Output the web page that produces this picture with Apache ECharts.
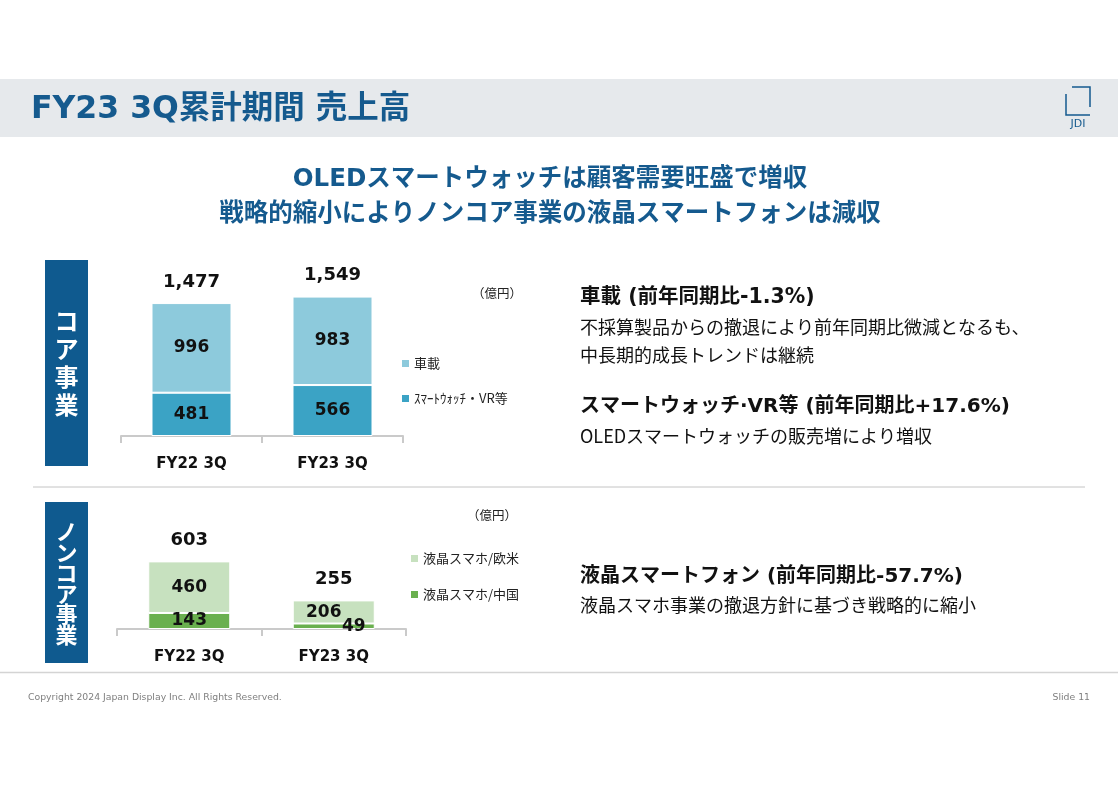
<!DOCTYPE html>
<html><head><meta charset="utf-8">
<script src="https://cdn.jsdelivr.net/npm/echarts@6/dist/echarts.min.js"></script>
<style>html,body{margin:0;padding:0;background:#fff}#c{width:1118px;height:790px}</style>
</head><body><div id="c"></div>
<script>
// ---- data ----
const categories = ['FY22 3Q', 'FY23 3Q'];
const coreWatch = [481, 566];      // スマートウォッチ・VR等
const coreAuto = [996, 983];       // 車載
const coreTotals = [1477, 1549];
const ncChina = [143, 49];         // 液晶スマホ/中国
const ncWest = [460, 206];         // 液晶スマホ/欧米
const ncTotals = [603, 255];
const coreLegend = ['車載', 'ｽﾏｰﾄｳｫｯﾁ・VR等'];
const ncLegend = ['液晶スマホ/欧米', '液晶スマホ/中国'];

const NUM = '"DejaVu Sans", "Noto Sans CJK JP", sans-serif';
const JP = '"Noto Sans CJK JP", sans-serif';
const BLUE = '#155a8e';

const chart = echarts.init(document.getElementById('c'), null, {renderer: 'canvas'});

function vtext(str, x, y0, step, size) {
  return str.split('').map((ch, i) => ({
    type: 'text', x: x, y: y0 + i * step,
    style: {text: ch, fill: '#fff', font: 'bold ' + size + 'px ' + JP, align: 'center', verticalAlign: 'middle'}
  }));
}
function txt(s, x, y, font, fill, align) {
  return {type: 'text', x: x, y: y, style: {text: s, font: font, fill: fill, align: align || 'left', verticalAlign: 'middle'}};
}
const fmt = v => v.toLocaleString('en-US');

const segLabel = {show: true, position: 'inside', color: '#111', fontSize: 17, fontWeight: 'bold', fontFamily: NUM};
const totLabel = arr => ({show: true, position: 'top', distance: 12, color: '#111', fontSize: 18, fontWeight: 'bold', fontFamily: NUM,
  formatter: p => fmt(arr[p.dataIndex])});

const xAx = (gi) => ({
  type: 'category', gridIndex: gi, data: categories,
  axisLine: {lineStyle: {color: '#cacaca', width: 2}},
  axisTick: {show: true, length: 7, lineStyle: {color: '#cacaca', width: 2}},
  axisLabel: {color: '#111', fontSize: 15, fontWeight: 'bold', fontFamily: NUM, margin: 21}
});
const yAx = (gi, max) => ({type: 'value', gridIndex: gi, min: 0, max: max, show: false, splitLine: {show: false}});

const graphic = [
  {type: 'rect', shape: {x: 0, y: 79, width: 1118, height: 58}, style: {fill: '#e6e9ec'}},
  txt('FY23 3Q累計期間 売上高', 31, 110, 'bold 31.5px ' + NUM, BLUE),
  {type: 'polyline', shape: {points: [[1072, 87], [1090, 87], [1090, 107]]}, style: {stroke: BLUE, lineWidth: 1.5, fill: null}},
  {type: 'polyline', shape: {points: [[1066, 94], [1066, 115], [1090, 115]]}, style: {stroke: BLUE, lineWidth: 1.5, fill: null}},
  txt('JDI', 1078, 124, '11px ' + NUM, BLUE, 'center'),
  txt('OLEDスマートウォッチは顧客需要旺盛で増収', 550, 180, 'bold 24.5px ' + NUM, BLUE, 'center'),
  txt('戦略的縮小によりノンコア事業の液晶スマートフォンは減収', 550, 212, 'bold 24.5px ' + JP, BLUE, 'center'),
  {type: 'rect', shape: {x: 45, y: 260, width: 43, height: 206}, style: {fill: '#0f5a8f'}},
  ...vtext('コア事業', 66.5, 321, 28, 24),
  {type: 'rect', shape: {x: 45, y: 502, width: 43, height: 161}, style: {fill: '#0f5a8f'}},
  ...vtext('ノンコア事業', 66.5, 532, 20.5, 22),
  txt('（億円）', 497, 293, '12.5px ' + JP, '#222', 'center'),
  txt('（億円）', 492, 515, '12.5px ' + JP, '#222', 'center'),
  {type: 'line', shape: {x1: 33, y1: 487, x2: 1085, y2: 487}, style: {stroke: '#c4c4c4', lineWidth: 1}},
  {type: 'line', shape: {x1: 0, y1: 672.5, x2: 1118, y2: 672.5}, style: {stroke: '#d4d4d4', lineWidth: 1.5}},
  txt('車載 (前年同期比-1.3%)', 580, 298, 'bold 20.5px ' + NUM, '#111'),
  txt('不採算製品からの撤退により前年同期比微減となるも、', 580, 327, '18px ' + JP, '#111'),
  txt('中長期的成長トレンドは継続', 580, 355, '18px ' + JP, '#111'),
  txt('スマートウォッチ·VR等 (前年同期比+17.6%)', 580, 407, 'bold 20px ' + NUM, '#111'),
  txt('OLEDスマートウォッチの販売増により増収', 580, 436, '18px ' + JP, '#111'),
  txt('液晶スマートフォン (前年同期比-57.7%)', 580, 577, 'bold 20px ' + NUM, '#111'),
  txt('液晶スマホ事業の撤退方針に基づき戦略的に縮小', 580, 605, '18px ' + JP, '#111'),
  txt('Copyright 2024 Japan Display Inc. All Rights Reserved.', 28, 698, '9.3px ' + NUM, '#7f7f7f'),
  txt('Slide 11', 1090, 698, '9.3px ' + NUM, '#7f7f7f', 'right')
];

const legendBase = {orient: 'vertical', icon: 'rect', itemWidth: 7, itemHeight: 7, padding: 0,
  textStyle: {fontSize: 13, color: '#222', fontFamily: JP}, itemStyle: {borderWidth: 0}, selectedMode: false};

chart.setOption({
  animation: false,
  backgroundColor: '#fff',
  graphic: graphic,
  grid: [
    {left: 121, width: 282, top: 274, height: 162},
    {left: 117, width: 289, top: 550.5, height: 78.5}
  ],
  xAxis: [xAx(0), xAx(1)],
  yAxis: [yAx(0, 1800), yAx(1, 700)],
  legend: [
    Object.assign({}, legendBase, {data: coreLegend, left: 402, top: 357, itemGap: 22}),
    Object.assign({}, legendBase, {data: ncLegend, left: 411, top: 552, itemGap: 23})
  ],
  series: [
    {name: coreLegend[1], type: 'bar', stack: 'core', xAxisIndex: 0, yAxisIndex: 0, barWidth: 80, data: coreWatch,
      itemStyle: {color: '#3ba3c5', borderColor: '#fff', borderWidth: 1}, label: segLabel},
    {name: coreLegend[0], type: 'bar', stack: 'core', xAxisIndex: 0, yAxisIndex: 0, barWidth: 80, data: coreAuto,
      itemStyle: {color: '#8dcadc', borderColor: '#fff', borderWidth: 1}, label: segLabel},
    {name: 'coreTotal', type: 'bar', stack: 'core', xAxisIndex: 0, yAxisIndex: 0, barWidth: 80, data: coreTotals.map(() => 0),
      itemStyle: {color: 'rgba(0,0,0,0)'}, label: totLabel(coreTotals)},
    {name: ncLegend[1], type: 'bar', stack: 'nc', xAxisIndex: 1, yAxisIndex: 1, barWidth: 82,
      data: [ncChina[0], {value: ncChina[1], label: {offset: [20, 0]}}],
      itemStyle: {color: '#6ab04f', borderColor: '#fff', borderWidth: 1}, label: segLabel},
    {name: ncLegend[0], type: 'bar', stack: 'nc', xAxisIndex: 1, yAxisIndex: 1, barWidth: 82,
      data: [ncWest[0], {value: ncWest[1], label: {offset: [-10, 1]}}],
      itemStyle: {color: '#c7e1bf', borderColor: '#fff', borderWidth: 1}, label: segLabel},
    {name: 'ncTotal', type: 'bar', stack: 'nc', xAxisIndex: 1, yAxisIndex: 1, barWidth: 82, data: ncTotals.map(() => 0),
      itemStyle: {color: 'rgba(0,0,0,0)'}, label: totLabel(ncTotals)}
  ]
});
</script></body></html>
